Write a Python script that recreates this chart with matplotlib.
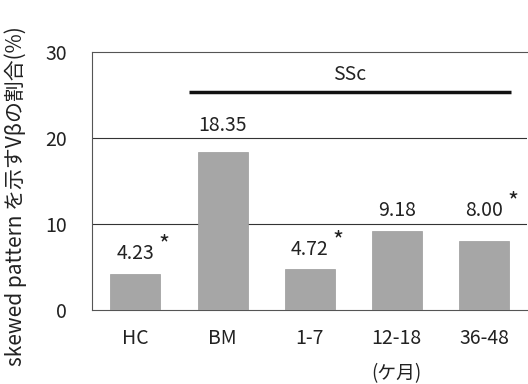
import matplotlib
matplotlib.use("Agg")
import matplotlib.pyplot as plt

plt.rcParams['font.family'] = ['Noto Sans CJK JP', 'DejaVu Sans']

categories = ["HC", "BM", "1-7", "12-18", "36-48"]
values = [4.23, 18.35, 4.72, 9.18, 8.00]
labels = ["4.23", "18.35", "4.72", "9.18", "8.00"]
significant = [True, False, True, False, True]
yticks = [0, 10, 20, 30]
label_offsets = [2.3, 3.1, 2.3, 2.4, 3.5]

fig = plt.figure(figsize=(5.28, 3.84), dpi=100)
ax = fig.add_axes([0.174, 0.193, 0.825, 0.672])

x = range(len(categories))
ax.bar(x, values, width=0.575, color="#a6a6a6", edgecolor="#9a9a9a", linewidth=0.5, zorder=3)

for yv in [10, 20]:
    ax.axhline(yv, color="#333333", linewidth=0.8, zorder=1)

ax.set_xlim(-0.5, 4.5)
ax.set_ylim(0, 30)
ax.set_yticks(yticks)
ax.set_xticks(list(x))
ax.set_xticklabels(categories)
ax.tick_params(axis='both', length=0, labelsize=14, colors="#222222")
ax.tick_params(axis='y', pad=18)
ax.tick_params(axis='x', pad=13)

for s in ['left', 'top', 'bottom']:
    ax.spines[s].set_color("#555555")
    ax.spines[s].set_linewidth(0.8)
ax.spines['left'].set_linestyle((0, (2, 1)))
ax.spines['top'].set_linestyle((0, (2, 1)))
ax.spines['right'].set_visible(False)

for i, (v, lab, sig, off) in enumerate(zip(values, labels, significant, label_offsets)):
    ax.text(i, v + off, lab, ha='center', va='center', fontsize=14, color="#222222")
    if sig:
        ax.text(i + 0.33, v + off + 1.0, "*", ha='center', va='center', fontsize=17, color="#222222")

# SSc bracket
ax.plot([0.62, 4.31], [25.35, 25.35], color="#111111", linewidth=2.5, solid_capstyle='butt')
ax.text(2.46, 27.4, "SSc", ha='center', va='center', fontsize=14, color="#222222")

ax.text(3, -7.4, "(ケ月)", ha='center', va='center', fontsize=13.5, color="#222222", clip_on=False)

fig.text(0.03, 0.49, "skewed pattern を示すVβの割合(%)", rotation=90, ha='center', va='center',
         fontsize=15, color="#222222")

fig.savefig("out.png", dpi=100)
